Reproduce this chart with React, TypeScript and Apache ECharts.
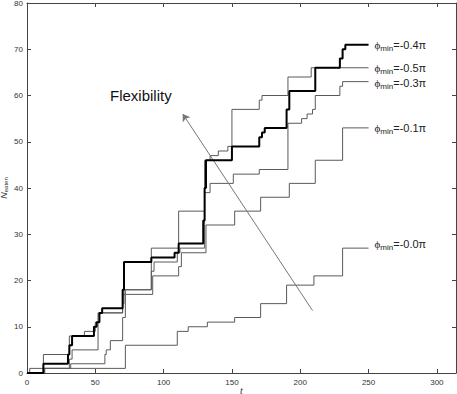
import React, { useEffect, useRef } from "react";
import * as echarts from "echarts";

// phi_min = -0.4π (thick black)
const T_A = [0, 12, 30, 31, 33, 49, 51, 53, 55, 70, 71, 91, 108, 111, 129, 130, 131, 150, 170, 172, 174, 190, 192, 211, 229, 231, 233, 250];
const N_A = [0, 2, 4, 6, 8, 10, 11, 13, 14, 18, 24, 25, 26, 28, 33, 40, 46, 49, 51, 52, 53, 57, 61, 66, 68, 70, 71, 71];
// phi_min = -0.5π
const T_B = [0, 12, 31, 42, 50, 52, 70, 72, 91, 111, 130, 134, 140, 147, 150, 170, 172, 191, 208, 250];
const N_B = [0, 4, 8, 9, 11, 13, 17, 18, 27, 35, 46, 47, 48, 49, 57, 59, 60, 64, 66, 66];
// phi_min = -0.3π
const T_C = [0, 13, 31, 33, 52, 53, 70, 71, 91, 93, 110, 112, 130, 134, 151, 170, 191, 201, 205, 209, 211, 229, 231, 250];
const N_C = [0, 1, 3, 5, 11, 13, 15, 18, 22, 24, 26, 27, 39, 41, 43, 44, 54, 55, 56, 57, 60, 62, 63, 63];
// phi_min = -0.1π
const T_D = [0, 12, 32, 57, 58, 61, 70, 72, 92, 111, 113, 131, 152, 171, 192, 211, 231, 250];
const N_D = [0, 1, 2, 4, 5, 7, 12, 17, 21, 23, 26, 32, 35, 38, 41, 46, 53, 53];
// phi_min = -0.0π
const T_E = [0, 2, 72, 110, 118, 132, 152, 171, 190, 210, 231, 250];
const N_E = [0, 1, 6, 9, 10, 11, 12, 15, 19, 21, 27, 27];

const LABELS = ["-0.4π", "-0.5π", "-0.3π", "-0.1π", "-0.0π"];
const ARROW_FROM = [209, 13.5];
const ARROW_TO = [114, 56];

const pairs = (t: number[], n: number[]) => t.map((v, i) => [v, n[i]]);

export default function App() {
  const ref = useRef<HTMLDivElement>(null);
  useEffect(() => {
    document.body.style.margin = "0";
    const chart = echarts.init(ref.current!, null, { renderer: "svg" });
    const TXT = "#222";
    const rich = {
      phi: { fontSize: 11, fontFamily: "Liberation Serif", color: TXT },
      subs: { fontSize: 8, fontFamily: "Liberation Sans", color: TXT, padding: [7, 0, 0, 0] },
      val: { fontSize: 11, fontFamily: "Liberation Sans", color: TXT },
    };
    const mk = (t: number[], n: number[], label: string, black: boolean, extra: any = {}) => {
      const col = black ? "#000" : "#5a5a5a";
      return {
        type: "line",
        step: "end",
        symbol: "none",
        color: col,
        itemStyle: { color: col },
        data: pairs(t, n),
        lineStyle: { color: col, width: black ? 2 : 1 },
        z: black ? 5 : 3,
        endLabel: {
          show: true,
          distance: 6,
          color: TXT,
          formatter: () => `{phi|ϕ}{subs|min}{val|=${label}}`,
          rich,
          ...(extra.labelOffset ? { offset: extra.labelOffset } : {}),
        },
        ...(extra.series || {}),
      };
    };
    const axisCommon = {
      axisLine: { show: true, onZero: false, lineStyle: { color: "#444", width: 1 } },
      axisTick: { show: true, inside: true, length: 4, lineStyle: { color: "#444" } },
      splitLine: { show: false },
    };
    chart.setOption({
      animation: false,
      grid: { left: 27, right: 1, top: 3, bottom: 21, containLabel: false, outerBoundsMode: "none" },
      xAxis: [
        {
          type: "value",
          min: 0,
          max: 314,
          interval: 50,
          ...axisCommon,
          axisLabel: { fontSize: 8, color: "#333", margin: 5, fontFamily: "Liberation Sans", showMaxLabel: false },
          name: "t",
          nameLocation: "middle",
          nameGap: 12,
          nameMoveOverlap: false,
          nameTextStyle: { fontStyle: "italic", fontFamily: "Liberation Serif", fontSize: 10, color: "#333" },
        },
        {
          type: "value",
          position: "top",
          min: 0,
          max: 314,
          interval: 50,
          ...axisCommon,
          axisLabel: { show: false },
        },
      ],
      yAxis: [
        {
          type: "value",
          min: 0,
          max: 80,
          interval: 10,
          ...axisCommon,
          axisLabel: { fontSize: 8, color: "#333", margin: 4, fontFamily: "Liberation Sans" },
          name: "{nn|N}{ee|eaten}",
          nameLocation: "middle",
          nameRotate: 90,
          nameGap: 18,
          nameMoveOverlap: false,
          nameTextStyle: {
            color: "#333",
            rich: {
              nn: { fontSize: 9, fontStyle: "italic", fontFamily: "Liberation Sans", color: "#333" },
              ee: { fontSize: 6, fontFamily: "Liberation Sans", color: "#333", padding: [4, 0, 0, 0] },
            },
          },
        },
        {
          type: "value",
          position: "right",
          min: 0,
          max: 80,
          interval: 10,
          ...axisCommon,
          axisLabel: { show: false },
        },
      ],
      series: [
        mk(T_E, N_E, LABELS[4], false, { labelOffset: [0, -4] }),
        mk(T_D, N_D, LABELS[3], false),
        mk(T_C, N_C, LABELS[2], false, { labelOffset: [0, 1] }),
        mk(T_B, N_B, LABELS[1], false),
        mk(T_A, N_A, LABELS[0], true, {
          series: {
            markLine: {
              silent: true,
              symbol: ["none", "arrow"],
              symbolSize: 7,
              label: { show: false },
              lineStyle: { color: "#777", width: 1, type: "solid" },
              emphasis: { disabled: true },
              data: [[{ coord: ARROW_FROM }, { coord: ARROW_TO, itemStyle: { color: "#222" } }]],
            },
          },
        }),
      ],
      graphic: [
        {
          type: "text",
          left: 110,
          top: 88,
          style: { text: "Flexibility", fontSize: 15, fontFamily: "Liberation Sans", fill: "#111" },
        },
      ],
    });
    return () => chart.dispose();
  }, []);
  return <div ref={ref} style={{ width: 457, height: 394 }} />;
}
